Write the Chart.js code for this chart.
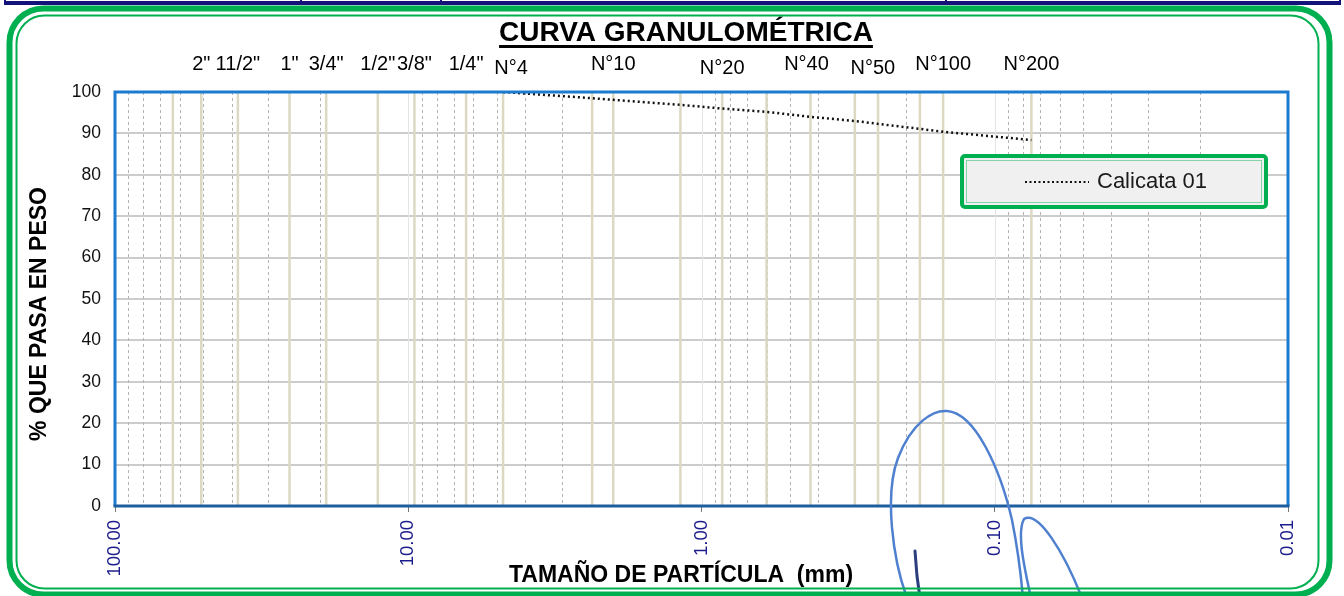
<!DOCTYPE html>
<html>
<head>
<meta charset="utf-8">
<title>Curva granulométrica</title>
<script src="https://cdn.jsdelivr.net/npm/chart.js@4.4.1/dist/chart.umd.min.js"></script>
<style>
  html, body { margin: 0; padding: 0; background: #ffffff; }
  #wrap { position: relative; width: 1344px; height: 596px; }
</style>
</head>
<body>
<div id="wrap"><canvas id="granChart"></canvas></div>
<script>
// Tamices: nombres de la fila superior y su abertura (mm)
const sieveNames = ['2"', '11/2"', '1"', '3/4"', '1/2"', '3/8"', '1/4"', 'N°4', 'N°10', 'N°20', 'N°40', 'N°50', 'N°100', 'N°200'];
const sieveNameSizes = [50.8, 38.1, 25.4, 19.05, 12.7, 9.525, 6.35, 4.75, 2.0, 0.85, 0.425, 0.3, 0.15, 0.075];

// Líneas verticales de tamices en el gráfico (mm)
const sieveLineSizes = [63.5, 50.8, 38.1, 25.4, 19.05, 12.7, 9.525, 6.35, 4.75, 2.36, 2.0, 1.18, 0.85, 0.6, 0.425, 0.3, 0.25, 0.18, 0.15, 0.075];

// Calicata 01: abertura (mm) y % que pasa
const sampleName = 'Calicata 01';
const sampleSizes = [4.75, 2.36, 2.0, 1.18, 0.85, 0.6, 0.425, 0.3, 0.25, 0.18, 0.15, 0.075];
const samplePassing = [100, 98.5, 98.1, 96.9, 96.0, 95.2, 94.0, 93.0, 92.3, 91.1, 90.4, 88.4];

// Ejes
const xTickValues = [100, 10, 1, 0.1, 0.01];
const yTicksStep = 10;

const FONT = '"Liberation Sans", Arial, sans-serif';
const GREEN = '#00b050';

function roundRect(ctx, x, y, w, h, r) {
    ctx.beginPath();
    ctx.moveTo(x + r, y);
    ctx.lineTo(x + w - r, y);
    ctx.arcTo(x + w, y, x + w, y + r, r);
    ctx.lineTo(x + w, y + h - r);
    ctx.arcTo(x + w, y + h, x + w - r, y + h, r);
    ctx.lineTo(x + r, y + h);
    ctx.arcTo(x, y + h, x, y + h - r, r);
    ctx.lineTo(x, y + r);
    ctx.arcTo(x, y, x + r, y, r);
    ctx.closePath();
}

// rejilla logarítmica secundaria + líneas de tamices
const gridPlugin = {
    id: 'gridPlugin',
    beforeDatasetsDraw(chart) {
        const { ctx, chartArea: a, scales: { x } } = chart;
        ctx.save();
        // menores (2..9 por década), discontinuas
        ctx.strokeStyle = '#b4b4b4';
        ctx.lineWidth = 1;
        ctx.setLineDash([3, 3]);
        for (let e = -2; e < 2; e++) {
            for (let m = 2; m <= 9; m++) {
                const px = Math.round(x.getPixelForValue(m * Math.pow(10, e))) + 0.5;
                ctx.beginPath();
                ctx.moveTo(px, a.top);
                ctx.lineTo(px, a.bottom);
                ctx.stroke();
            }
        }
        ctx.setLineDash([]);
        // décadas
        ctx.strokeStyle = '#e4e4e4';
        xTickValues.forEach(v => {
            const px = Math.round(x.getPixelForValue(v)) + 0.5;
            ctx.beginPath();
            ctx.moveTo(px, a.top);
            ctx.lineTo(px, a.bottom);
            ctx.stroke();
        });
        // tamices
        ctx.strokeStyle = '#ddd8c2';
        ctx.lineWidth = 2.5;
        sieveLineSizes.forEach(v => {
            const px = x.getPixelForValue(v);
            ctx.beginPath();
            ctx.moveTo(px, a.top);
            ctx.lineTo(px, a.bottom);
            ctx.stroke();
        });
        ctx.restore();
    },
    afterDatasetsDraw(chart) {
        const { ctx, chartArea: a } = chart;
        ctx.save();
        // marco del área de trazado
        ctx.strokeStyle = '#1a7bd0';
        ctx.lineWidth = 3;
        ctx.beginPath();
        ctx.moveTo(a.left, a.bottom);
        ctx.lineTo(a.left, a.top);
        ctx.lineTo(a.right, a.top);
        ctx.lineTo(a.right, a.bottom);
        ctx.stroke();
        ctx.strokeStyle = '#1f5e9e';
        ctx.beginPath();
        ctx.moveTo(a.left - 1.5, a.bottom);
        ctx.lineTo(a.right + 1.5, a.bottom);
        ctx.stroke();

        // leyenda
        const lx = 962, ly = 156, lw = 304, lh = 51;
        ctx.fillStyle = '#f0f0f0';
        roundRect(ctx, lx, ly, lw, lh, 3);
        ctx.fill();
        ctx.strokeStyle = GREEN;
        ctx.lineWidth = 4;
        ctx.stroke();
        ctx.strokeStyle = 'rgba(0,176,80,0.45)';
        ctx.lineWidth = 1;
        ctx.strokeRect(lx + 4.5, ly + 4.5, lw - 9, lh - 9);
        ctx.strokeStyle = '#111';
        ctx.lineWidth = 2;
        ctx.setLineDash([2, 2.5]);
        ctx.beginPath();
        ctx.moveTo(1025, 182);
        ctx.lineTo(1089, 182);
        ctx.stroke();
        ctx.setLineDash([]);
        ctx.fillStyle = '#1a1a1a';
        ctx.font = '22px ' + FONT;
        ctx.textAlign = 'left';
        ctx.textBaseline = 'middle';
        ctx.fillText(sampleName, 1097, 182);
        ctx.restore();
    },
    afterDraw(chart) {
        const { ctx, scales: { x } } = chart;
        ctx.save();

        // título subrayado
        ctx.fillStyle = '#000';
        ctx.font = 'bold 28px ' + FONT;
        ctx.textAlign = 'center';
        ctx.textBaseline = 'middle';
        ctx.fillText('CURVA GRANULOMÉTRICA', 686, 33);
        const tw = ctx.measureText('CURVA GRANULOMÉTRICA').width;
        ctx.fillRect(686 - tw / 2, 45, tw, 3);

        // nombres de tamices
        const nudgeX = { 'N°4': 8, 'N°40': -4, 'N°50': 18 };
        const nudgeY = { 'N°4': 4, 'N°20': 4, 'N°50': 4 };
        ctx.font = '20px ' + FONT;
        sieveNames.forEach((name, i) => {
            const px = x.getPixelForValue(sieveNameSizes[i]) + (nudgeX[name] || 0);
            ctx.fillText(name, px, 64 + (nudgeY[name] || 0));
        });

        // títulos de ejes
        ctx.font = 'bold 23px ' + FONT;
        ctx.fillText('TAMAÑO DE PARTÍCULA  (mm)', 681, 576);
        ctx.save();
        ctx.translate(40, 314);
        ctx.rotate(-Math.PI / 2);
        ctx.fillText('% QUE PASA EN PESO', 0, 0);
        ctx.restore();

        // firma
        ctx.lineCap = 'round';
        ctx.strokeStyle = '#4f80cf';
        ctx.lineWidth = 2.5;
        ctx.beginPath();
        ctx.moveTo(907, 598);
        ctx.bezierCurveTo(893, 560, 884, 495, 898, 458);
        ctx.bezierCurveTo(912, 422, 933, 410, 947, 411);
        ctx.bezierCurveTo(975, 413, 1000, 468, 1012, 520);
        ctx.bezierCurveTo(1018, 550, 1021, 575, 1023, 598);
        ctx.stroke();
        ctx.beginPath();
        ctx.moveTo(1031, 598);
        ctx.bezierCurveTo(1023, 562, 1017, 532, 1024, 519);
        ctx.bezierCurveTo(1038, 510, 1064, 552, 1082, 598);
        ctx.stroke();
        ctx.strokeStyle = '#2b3f7c';
        ctx.lineWidth = 3;
        ctx.beginPath();
        ctx.moveTo(915, 551);
        ctx.lineTo(917, 576);
        ctx.lineTo(920, 598);
        ctx.stroke();

        // marco verde doble
        ctx.strokeStyle = GREEN;
        ctx.lineWidth = 6;
        roundRect(ctx, 9.5, 8.5, 1320, 586, 34);
        ctx.stroke();
        ctx.lineWidth = 2;
        roundRect(ctx, 16.5, 15.5, 1302, 573, 28);
        ctx.stroke();

        // filete azul del encabezado
        ctx.fillStyle = '#12127a';
        ctx.fillRect(4, 1, 1337, 4);
        [4, 300, 440, 945, 1339].forEach(px => ctx.fillRect(px, 0, 2, 5));
        ctx.restore();
    }
};

const ctx = document.getElementById('granChart').getContext('2d');

const granChart = new Chart(ctx, {
    type: 'line',
    data: {
        datasets: [{
            label: sampleName,
            data: sampleSizes.map((s, i) => ({ x: s, y: samplePassing[i] })),
            borderColor: '#111111',
            borderWidth: 2.5,
            borderDash: [2, 3],
            pointRadius: 0,
            fill: false,
            tension: 0
        }]
    },
    options: {
        responsive: true,
        maintainAspectRatio: false,
        animation: false,
        layout: { padding: { left: 0, right: 56, top: 92, bottom: 0 } },
        plugins: {
            legend: { display: false },
            title: { display: false },
            tooltip: { enabled: false }
        },
        scales: {
            x: {
                type: 'logarithmic',
                reverse: true,
                min: 0.01,
                max: 100,
                afterBuildTicks: s => { s.ticks = xTickValues.map(v => ({ value: v })); },
                afterFit: s => { s.height = 90; },
                border: { display: false },
                grid: { drawOnChartArea: false, drawTicks: true, tickLength: 6, color: '#777' },
                ticks: {
                    autoSkip: false,
                    minRotation: 90,
                    maxRotation: 90,
                    padding: 8,
                    color: '#1c1c8c',
                    font: { family: FONT, size: 18.5 },
                    callback: v => Number(v).toFixed(2)
                }
            },
            y: {
                min: 0,
                max: 100,
                afterFit: s => { s.width = 115; },
                border: { display: false },
                grid: { color: '#cccccc', lineWidth: 2, drawTicks: false },
                ticks: {
                    stepSize: yTicksStep,
                    padding: 14,
                    color: '#111',
                    font: { family: FONT, size: 17.5 }
                }
            }
        }
    },
    plugins: [gridPlugin]
});
</script>
</body>
</html>
